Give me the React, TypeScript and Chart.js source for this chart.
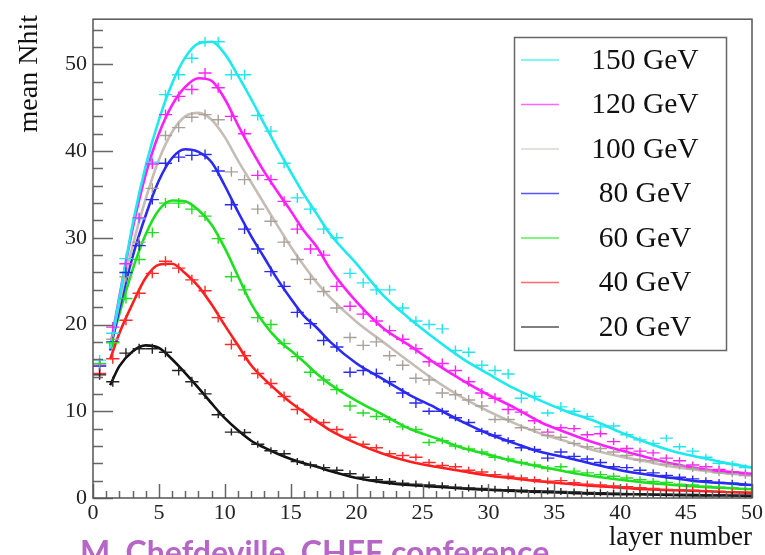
import React, { useEffect, useRef } from 'react';
import { Chart, registerables } from 'chart.js';

Chart.register(...registerables);

// ---------- data ----------
const layers = [0.5, 1.5, 2.5, 3.5, 4.5, 5.5, 6.5, 7.5, 8.5, 9.5, 10.5, 11.5, 12.5, 13.5, 14.5, 15.5, 16.5, 17.5, 18.5, 19.5, 20.5, 21.5, 22.5, 23.5, 24.5, 25.5, 26.5, 27.5, 28.5, 29.5, 30.5, 31.5, 32.5, 33.5, 34.5, 35.5, 36.5, 37.5, 38.5, 39.5, 40.5, 41.5, 42.5, 43.5, 44.5, 45.5, 46.5, 47.5, 48.5, 49.5];

const energies = ['150 GeV', '120 GeV', '100 GeV', '80 GeV', '60 GeV', '40 GeV', '20 GeV'];

const hits150 = [15.9, 19.0, 27.6, 32.2, 38.7, 46.5, 48.8, 50.7, 52.6, 52.6, 48.8, 48.8, 44.1, 42.3, 38.6, 34.6, 33.3, 31.0, 30.0, 25.9, 24.8, 24.0, 24.0, 21.9, 20.4, 20.0, 19.5, 17.0, 16.8, 15.3, 14.7, 14.3, 11.5, 11.7, 9.8, 10.5, 10.0, 9.4, 8.2, 8.3, 7.3, 6.7, 6.3, 6.9, 5.9, 5.4, 4.7, 4.0, 3.9, 3.5];
const hits120 = [15.3, 19.7, 27.0, 32.3, 38.5, 44.2, 46.3, 47.1, 49.0, 47.3, 44.0, 42.0, 37.2, 36.7, 34.2, 31.0, 28.7, 28.0, 24.4, 22.1, 21.2, 20.4, 19.3, 18.3, 17.2, 15.7, 15.5, 14.7, 13.4, 12.1, 11.5, 10.2, 9.9, 8.9, 7.6, 8.1, 8.0, 7.3, 7.4, 6.5, 5.7, 5.4, 5.2, 4.6, 4.3, 3.8, 3.6, 3.3, 3.0, 2.8];
const hits100 = [15.2, 18.3, 25.5, 29.5, 35.7, 41.8, 42.7, 43.9, 44.2, 43.6, 37.6, 36.7, 33.3, 31.9, 29.5, 27.5, 25.2, 23.8, 21.9, 18.5, 17.6, 18.0, 16.4, 15.3, 13.8, 13.6, 12.1, 11.9, 11.3, 10.6, 9.05, 9.05, 8.1, 7.9, 7.2, 7.0, 6.3, 5.9, 5.7, 5.3, 4.9, 4.4, 4.3, 3.9, 3.7, 3.4, 3.2, 2.9, 2.8, 2.6];
const hits80 = [15.2, 18.0, 26.0, 29.1, 34.4, 38.6, 39.3, 39.5, 39.6, 37.7, 33.8, 31.0, 28.7, 26.1, 24.4, 21.4, 20.1, 18.15, 17.4, 14.5, 14.7, 14.35, 13.4, 12.1, 10.95, 10.0, 10.0, 9.25, 8.7, 7.7, 7.2, 6.6, 5.8, 5.6, 4.6, 5.3, 4.8, 4.5, 4.1, 3.6, 3.5, 3.2, 2.9, 2.6, 2.4, 2.2, 2.0, 1.8, 1.7, 1.5];
const hits60 = [15.5, 17.9, 23.0, 27.5, 30.6, 34.0, 34.0, 33.3, 32.5, 29.9, 25.5, 24.0, 20.8, 20.0, 17.8, 16.3, 14.5, 13.6, 12.5, 10.6, 9.8, 9.4, 9.05, 8.2, 7.9, 6.4, 6.6, 6.0, 5.65, 5.3, 4.7, 4.5, 4.1, 3.8, 3.4, 3.6, 3.1, 2.9, 2.7, 2.5, 2.3, 2.1, 1.9, 1.8, 1.6, 1.5, 1.35, 1.25, 1.15, 1.0];
const hits40 = [14.35, 16.05, 20.5, 23.6, 25.9, 27.3, 26.5, 25.15, 23.9, 20.8, 17.7, 16.4, 14.35, 13.2, 11.7, 10.2, 9.05, 8.7, 7.9, 7.0, 6.2, 5.8, 5.1, 4.9, 4.7, 4.1, 3.75, 3.6, 3.2, 3.0, 2.7, 2.5, 2.3, 2.1, 1.95, 2.0, 1.75, 1.6, 1.5, 1.4, 1.3, 1.2, 1.1, 1.0, 0.95, 0.9, 0.8, 0.75, 0.7, 0.65];
const hits20 = [14.2, 13.4, 16.7, 17.2, 17.2, 16.8, 14.7, 13.4, 12.0, 9.6, 7.6, 7.55, 6.2, 5.45, 5.1, 4.2, 3.8, 3.5, 3.2, 2.8, 2.4, 2.1, 1.9, 1.7, 1.6, 1.5, 1.4, 1.25, 1.15, 1.1, 1.0, 0.95, 0.9, 0.85, 0.8, 0.75, 0.7, 0.65, 0.6, 0.55, 0.5, 0.5, 0.45, 0.45, 0.4, 0.4, 0.35, 0.35, 0.3, 0.3];

const fitX = [1.3, 2, 3, 4, 5, 6, 7, 8, 9, 10, 11, 12, 13, 14, 15, 16, 17, 18, 20, 22, 24, 26, 28, 30, 32, 34, 36, 38, 40, 42, 44, 46, 48, 50];
const fit150 = [17.2, 23.0, 31.5, 38.3, 43.6, 47.8, 50.8, 52.4, 52.6, 51.2, 48.7, 46.0, 43.1, 40.3, 37.6, 35.0, 32.7, 30.4, 27.0, 23.4, 20.7, 18.3, 16.1, 14.3, 12.6, 11.2, 9.95, 8.9, 7.6, 6.4, 5.4, 4.7, 4.05, 3.5];
const fit120 = [17.4, 23.2, 31.0, 37.3, 42.0, 45.3, 47.4, 48.4, 48.1, 46.0, 43.0, 40.2, 37.6, 35.3, 33.1, 30.8, 28.9, 26.4, 22.6, 19.6, 17.6, 15.5, 13.6, 11.9, 10.4, 8.7, 7.5, 6.4, 5.5, 4.7, 3.95, 3.4, 3.05, 2.8];
const fit100 = [17.3, 22.5, 29.0, 34.5, 39.0, 42.2, 44.0, 44.4, 43.6, 41.6, 38.9, 36.4, 33.9, 31.4, 29.0, 26.8, 24.8, 23.1, 20.3, 18.0, 15.7, 13.5, 11.6, 10.0, 8.6, 7.4, 6.5, 5.5, 4.8, 4.2, 3.6, 3.2, 2.85, 2.6];
const fit80 = [17.0, 21.8, 27.8, 32.6, 36.6, 39.2, 40.2, 39.9, 38.7, 36.0, 33.0, 30.2, 27.7, 25.2, 23.0, 21.0, 19.6, 18.0, 15.5, 13.7, 11.9, 10.4, 8.8, 7.4, 6.3, 5.3, 4.65, 3.9, 3.2, 2.7, 2.3, 1.9, 1.7, 1.5];
const fit60 = [17.5, 21.2, 26.3, 30.4, 33.2, 34.3, 34.2, 33.2, 31.5, 28.8, 25.6, 22.4, 20.1, 18.3, 17.0, 15.7, 14.3, 13.1, 11.2, 9.6, 8.0, 6.9, 5.8, 5.0, 4.2, 3.6, 3.0, 2.5, 2.1, 1.75, 1.5, 1.3, 1.15, 1.0];
const fit40 = [16.0, 19.0, 22.4, 25.4, 26.9, 27.0, 25.9, 24.4, 22.3, 19.9, 17.6, 15.3, 13.7, 12.3, 11.0, 9.9, 8.8, 7.8, 6.3, 5.1, 4.2, 3.6, 3.1, 2.6, 2.25, 1.9, 1.65, 1.4, 1.2, 1.0, 0.9, 0.8, 0.7, 0.6];
const fit20 = [13.0, 15.2, 16.9, 17.6, 17.3, 16.0, 14.4, 12.7, 10.9, 9.2, 7.8, 6.6, 5.8, 5.1, 4.5, 4.0, 3.6, 3.1, 2.3, 1.8, 1.5, 1.3, 1.1, 0.95, 0.8, 0.7, 0.6, 0.5, 0.45, 0.4, 0.35, 0.3, 0.28, 0.25];

const xMajorTicks = [0, 5, 10, 15, 20, 25, 30, 35, 40, 45, 50];
const yMajorTicks = [0, 10, 20, 30, 40, 50];

// ---------- styles ----------
const lineColors = ['#1ee9ee', '#ff1eff', '#c6beb6', '#2a2af2', '#1fe01f', '#ff1e1e', '#111111'];
const crossColors = ['#22e6ee', '#ff22ff', '#a9a199', '#2a2af2', '#22dd22', '#ff2a2a', '#222222'];
const legendColors = ['#55f4f4', '#ff66ff', '#dcd6d0', '#5555ff', '#55f055', '#ff6a6a', '#555555'];

const hitSeries = [hits150, hits120, hits100, hits80, hits60, hits40, hits20];
const fitSeries = [fit150, fit120, fit100, fit80, fit60, fit40, fit20];

const SERIF = '"Liberation Serif", "Times New Roman", serif';

const crossPlugin = {
  id: 'crosses',
  afterDatasetsDraw(chart: any) {
    const { ctx, chartArea, scales } = chart;
    const x = scales.x, y = scales.y;
    ctx.save();
    ctx.beginPath();
    ctx.rect(chartArea.left, chartArea.top, chartArea.right - chartArea.left, chartArea.bottom - chartArea.top);
    ctx.clip();
    ctx.lineWidth = 1.4;
    chart.data.datasets.forEach((ds: any) => {
      if (!ds.isHits) return;
      ctx.strokeStyle = ds.crossColor;
      ds.data.forEach((p: any) => {
        const xl = x.getPixelForValue(p.x - 0.5);
        const xr = x.getPixelForValue(p.x + 0.5);
        const xc = x.getPixelForValue(p.x);
        const yc = y.getPixelForValue(p.y);
        const h = p.y > 10 ? 5 : 3.5;
        ctx.beginPath();
        ctx.moveTo(xl, yc);
        ctx.lineTo(xr, yc);
        ctx.moveTo(xc, yc - h);
        ctx.lineTo(xc, yc + h);
        ctx.stroke();
      });
    });
    ctx.restore();
  },
};

const framePlugin = {
  id: 'frame',
  afterDraw(chart: any) {
    const { ctx, chartArea, scales } = chart;
    const x = scales.x, y = scales.y;
    const { left, right, top, bottom } = chartArea;
    ctx.save();
    // ticks (ROOT style, inside)
    ctx.strokeStyle = '#666';
    ctx.lineWidth = 1.5;
    ctx.beginPath();
    for (let v = 0; v <= 55; v += 2) {
      const py = Math.round(y.getPixelForValue(v)) + 0.5;
      const len = v % 10 === 0 ? 20 : 10;
      ctx.moveTo(left, py);
      ctx.lineTo(left + len, py);
    }
    for (let v = 0; v <= 50; v += 1) {
      const px = Math.round(x.getPixelForValue(v)) + 0.5;
      const len = v % 5 === 0 ? 14 : 7;
      ctx.moveTo(px, bottom);
      ctx.lineTo(px, bottom - len);
    }
    ctx.stroke();
    // frame
    ctx.strokeStyle = '#555';
    ctx.lineWidth = 1.5;
    ctx.strokeRect(left, top, right - left, bottom - top);

    // axis titles
    ctx.fillStyle = '#111';
    ctx.font = `27px ${SERIF}`;
    ctx.textAlign = 'right';
    ctx.textBaseline = 'alphabetic';
    ctx.fillText('layer number', right, 545);
    ctx.save();
    ctx.font = `28px ${SERIF}`;
    ctx.translate(37, 15);
    ctx.rotate(-Math.PI / 2);
    ctx.textAlign = 'right';
    ctx.fillText('mean Nhit', 0, 0);
    ctx.restore();

    // legend
    const bx = 514, by = 37, bw = 212, bh = 313;
    ctx.fillStyle = '#fff';
    ctx.fillRect(bx, by, bw, bh);
    ctx.strokeStyle = '#666';
    ctx.lineWidth = 1.5;
    ctx.strokeRect(bx + 0.5, by + 0.5, bw, bh);
    ctx.font = `29.5px ${SERIF}`;
    ctx.textAlign = 'center';
    ctx.textBaseline = 'middle';
    energies.forEach((lab, i) => {
      const ry = 60 + i * 44.5;
      ctx.strokeStyle = legendColors[i];
      ctx.lineWidth = 1.6;
      ctx.beginPath();
      ctx.moveTo(521, ry);
      ctx.lineTo(559, ry);
      ctx.stroke();
      ctx.fillStyle = '#111';
      ctx.fillText(lab, 645, ry + 1);
    });

    // watermark caption
    ctx.fillStyle = '#b566c6';
    ctx.font = 'bold 32px Lato, "Open Sans", sans-serif';
    ctx.textAlign = 'left';
    ctx.textBaseline = 'alphabetic';
    ctx.fillText('M. Chefdeville, CHEF conference', 80, 564);
    ctx.restore();
  },
};

export default function App() {
  const ref = useRef<HTMLCanvasElement | null>(null);

  useEffect(() => {
    if (!ref.current) return;
    const datasets: any[] = [];
    fitSeries.forEach((fit, i) => {
      datasets.push({
        label: energies[i],
        data: fitX.map((xv, j) => ({ x: xv, y: fit[j] })),
        showLine: true,
        borderColor: lineColors[i],
        backgroundColor: lineColors[i],
        borderWidth: 2.6,
        pointRadius: 0,
        cubicInterpolationMode: 'monotone',
        fill: false,
      });
    });
    hitSeries.forEach((hits, i) => {
      datasets.push({
        label: energies[i] + ' data',
        data: layers.map((xv, j) => ({ x: xv, y: hits[j] })),
        showLine: false,
        pointRadius: 0,
        isHits: true,
        crossColor: crossColors[i],
      });
    });

    const chart = new Chart(ref.current, {
      type: 'scatter',
      data: { datasets },
      options: {
        animation: false,
        responsive: false,
        devicePixelRatio: 1,
        layout: { padding: { left: 0, top: 12, right: 12, bottom: 0 } },
        plugins: { legend: { display: false }, tooltip: { enabled: false } },
        scales: {
          x: {
            type: 'linear',
            min: 0,
            max: 50,
            grid: { display: false, drawTicks: false },
            border: { display: false },
            afterBuildTicks: (s: any) => { s.ticks = xMajorTicks.map((v) => ({ value: v })); },
            afterFit: (s: any) => { s.height = 57; },
            ticks: {
              padding: 2,
              color: '#222',
              font: { family: SERIF, size: 22 },
              maxRotation: 0,
              autoSkip: false,
            },
          },
          y: {
            type: 'linear',
            min: 0,
            max: 55.2,
            grid: { display: false, drawTicks: false },
            border: { display: false },
            afterBuildTicks: (s: any) => { s.ticks = yMajorTicks.map((v) => ({ value: v })); },
            afterFit: (s: any) => { s.width = 93; },
            ticks: {
              padding: 6,
              color: '#222',
              font: { family: SERIF, size: 22 },
              autoSkip: false,
            },
          },
        },
      },
      plugins: [crossPlugin, framePlugin],
    } as any);
    return () => chart.destroy();
  }, []);

  return (
    <div style={{ position: 'absolute', left: 0, top: 0, width: 765, height: 555, overflow: 'hidden', background: '#fff' }}>
      <canvas ref={ref} width={765} height={555} style={{ display: 'block' }} />
    </div>
  );
}
